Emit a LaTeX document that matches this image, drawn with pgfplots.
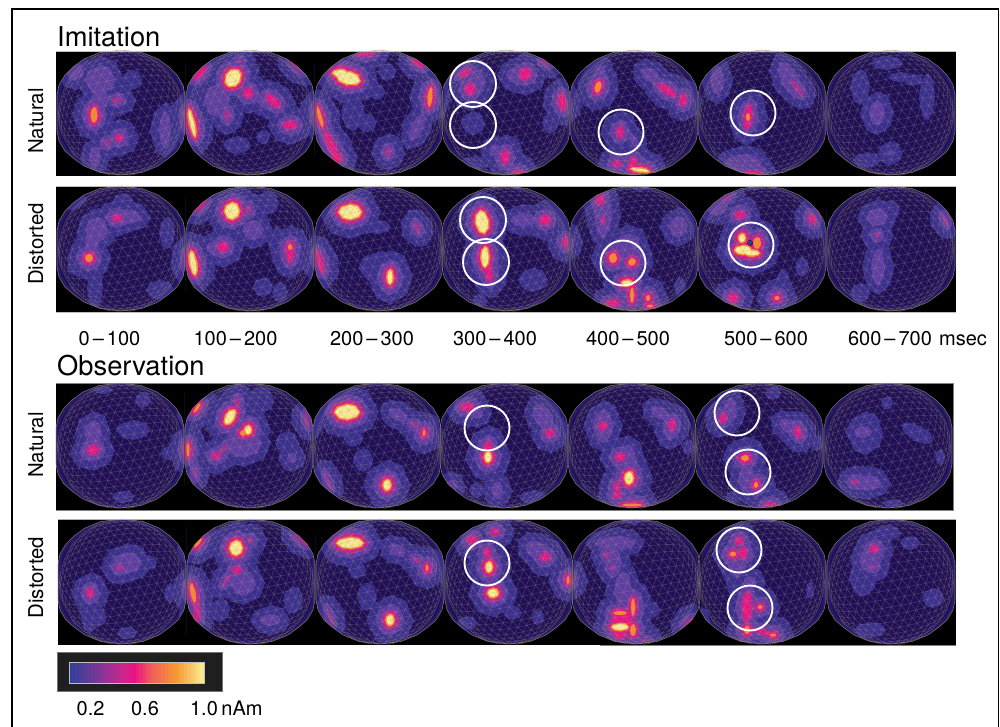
\documentclass[border=0pt]{standalone}
\usepackage{pgfplots}
\usepackage{pgfplotstable}
\usepackage{fontspec}
\setmainfont{TeX Gyre Heros}
\pgfplotsset{compat=1.18}
\definecolor{lay1}{HTML}{3A2F8E}
\definecolor{lay2}{HTML}{5E3EA3}
\definecolor{lay3}{HTML}{A52E93}
\definecolor{lay4}{HTML}{EA1484}
\definecolor{lay5}{HTML}{F28B30}
\definecolor{lay6}{HTML}{FAEB96}
\definecolor{ballbg}{HTML}{1F0F57}
\definecolor{meshc}{HTML}{A89A80}
\def\meshpath{}
\newif\ifpen
\foreach \a in {10,70,130}{%
  \pgfmathsetmacro\ca{cos(\a)}\pgfmathsetmacro\sa{sin(\a)}%
  \foreach \n in {-11,...,11}{%
    \global\penfalse
    \pgfmathsetmacro\sft{mod(abs(\n),2)*0.5}%
    \foreach \t in {-10,...,10}{%
      \pgfmathsetmacro\uu{-\n*0.139*\sa+(\t+\sft)*0.16*\ca+0.013}%
      \pgfmathsetmacro\vv{\n*0.139*\ca+(\t+\sft)*0.16*\sa+0.017}%
      \pgfmathsetmacro\thh{sqrt(\uu*\uu+\vv*\vv)}%
      \ifdim\thh pt<1.52pt
        \pgfmathsetmacro\ff{63*sin(deg(\thh))/\thh}%
        \pgfmathsetmacro\px{\ff*\uu}\pgfmathsetmacro\py{\ff*\vv}%
        \ifpen
          \xdef\meshpath{\unexpanded\expandafter{\meshpath}\noexpand\pgfpathlineto{\noexpand\pgfqpoint{\px pt}{\py pt}}}%
        \else
          \xdef\meshpath{\unexpanded\expandafter{\meshpath}\noexpand\pgfpathmoveto{\noexpand\pgfqpoint{\px pt}{\py pt}}}%
          \global\pentrue
        \fi
      \else
        \global\penfalse
      \fi
    }%
  }%
}
\def\bp#1#2{\pgfpathlineto{\pgfqpoint{#1pt}{#2pt}}}
\def\ballpath{\pgfpathmoveto{\pgfqpoint{64pt}{0pt}}%
  \bp{64}{18}\bp{62}{28}\bp{56}{38}\bp{48}{46}\bp{37}{54}\bp{21}{60.5}\bp{0}{63}%
  \bp{-21}{60.5}\bp{-37}{54}\bp{-48}{46}\bp{-56}{38}\bp{-62}{28}\bp{-64}{18}\bp{-64}{0}%
  \bp{-64}{-18}\bp{-62}{-28}\bp{-56}{-38}\bp{-48}{-45}\bp{-37}{-53}\bp{-21}{-59.5}\bp{0}{-62}%
  \bp{21}{-59.5}\bp{37}{-53}\bp{48}{-45}\bp{56}{-38}\bp{62}{-28}\bp{64}{-18}\pgfpathclose}
\newdimen\blx \newdimen\bly
\def\blobcode#1{%
  \pgfmathsetmacro\bladd{{20,11,6,3.2,1.6,0}[#1-1]-{18,10,6,3.2,1.6,0}[int(\pk)-1]}%
  \ifdim\bladd pt<0pt \else
    \pgfmathsetlength\blx{\rx+\bladd}%
    \pgfmathsetlength\bly{\ry+\bladd}%
    \pgfscope
    \pgftransformrotate{\rot}%
    \pgfpathmoveto{\pgfqpoint{\blx}{0pt}}%
    \pgfpathlineto{\pgfqpoint{.66\blx}{.78\bly}}%
    \pgfpathlineto{\pgfqpoint{.05\blx}{\bly}}%
    \pgfpathlineto{\pgfqpoint{-.75\blx}{.62\bly}}%
    \pgfpathlineto{\pgfqpoint{-\blx}{-.05\bly}}%
    \pgfpathlineto{\pgfqpoint{-.6\blx}{-.8\bly}}%
    \pgfpathlineto{\pgfqpoint{.05\blx}{-\bly}}%
    \pgfpathlineto{\pgfqpoint{.78\blx}{-.62\bly}}%
    \pgfpathclose
    \pgfusepathqfill
    \endpgfscope
  \fi}
\pgfdeclareplotmark{blob1}{\blobcode{1}}
\pgfdeclareplotmark{blob2}{\blobcode{2}}
\pgfdeclareplotmark{blob3}{\blobcode{3}}
\pgfdeclareplotmark{blob4}{\blobcode{4}}
\pgfdeclareplotmark{blob5}{\blobcode{5}}
\pgfdeclareplotmark{blob6}{\blobcode{6}}
\pgfdeclareplotmark{ballbase}{%
  \ballpath\pgfsetfillcolor{ballbg}\pgfusepathqfill
  \pgfsetstrokecolor{lay1}\pgfsetlinewidth{6pt}\pgfsetstrokeopacity{0.35}%
  \ballpath\pgfusepathqstroke}
\pgfdeclareplotmark{ballmask}{%
  \pgfpathrectangle{\pgfqpoint{-64.5pt}{-64.5pt}}{\pgfqpoint{129pt}{129pt}}%
  \ballpath\pgfseteorule\pgfsetfillcolor{black}\pgfusepathqfill}
\pgfdeclareplotmark{ballmesh}{%
  \pgfsetstrokecolor{meshc}\pgfsetstrokeopacity{0.42}\pgfsetlinewidth{0.35pt}%
  \meshpath\pgfusepathqstroke
  \pgfsetstrokeopacity{0.7}\pgfsetlinewidth{0.6pt}%
  \ballpath\pgfusepathqstroke}
\pgfdeclareplotmark{ring}{%
  \pgfpathcircle{\pgfpointorigin}{\rr pt}%
  \pgfsetstrokecolor{white}\pgfsetlinewidth{1.9pt}\pgfusepathqstroke}
\pgfdeclareplotmark{strip}{%
  \pgfpathrectangle{\pgfqpoint{-1.7pt}{-10.5pt}}{\pgfqpoint{3.4pt}{21pt}}\pgfusepathqfill}
\pgfplotsset{
  blobplot/.style={only marks,scatter,mark=blob#1,
    scatter/use mapped color={draw=none,fill=lay#1},
    visualization depends on={\thisrow{rx} \as \rx},
    visualization depends on={\thisrow{ry} \as \ry},
    visualization depends on={\thisrow{rot} \as \rot},
    visualization depends on={\thisrow{p} \as \pk}},
  ballplot/.style={only marks,mark=#1}
}
\pgfplotstableread{
x y
121 113
250 113
379 113
506 113
634 113
762 113
891 113
121 249
250 249
379 249
506 249
634 249
762 249
891 249
120 446
249 446
377 446
504 446
632 446
759 446
888 446
122 582
251 582
380 582
509 582
636 582
762 582
891 582
}\balls
\pgfplotstableread{
x y r
473 84 23
473 125 23
621 132 22.5
753 113 22.5
483 220 23
486 262 23
623 263 22.5
751 245 22.5
487 428 22.5
737 413 22.5
748 472 22.5
487 563 22.5
739 550 22.5
750 608 22.5
}\rings
\pgfplotstableread{
x y rx ry rot p
94 115 3.5 8 0 5
100 80 14 14 0 2
100 100 8 8 0 2
117 100 5 3 0 3
107 143 3 3 0 3
119 138 2.5 2.5 0 4
95 157 5 10 0 2
165 130 5 18 0 2
75 72 8 8 0 2
132 80 8 8 0 1
132 137 5 5 0 1
233 78 7 9 -30 6
248 93 4 4 0 4
273 101 8 3 -45 4
290 125 6 3 0 4
192 123 2 14 13 6
227 115 3 6 0 3
200 73 8 2 50 4
240 61 2 2 0 3
237 145 12 7 0 1
263 137 5 5 0 1
217 100 12 16 0 2
267 100 10 8 0 2
200 100 10 10 0 1
297 67 10 2 -40 3
348 78 12 6 -15 6
340 73 7 3 0 6
430 97 2.5 10 -5 5
320 117 2 11 15 5
332 147 3 17 25 4
337 158 4 4 0 4
388 152 3 5 0 3
365 54 8 1 0 4
418 63 6 1.5 -35 4
387 72 7 7 0 1
353 113 10 16 0 1
367 123 7 7 0 1
377 92 6 6 0 1
417 127 5 15 -25 2
465 73 5 2 30 4
470 89 4 5 0 4
473 82 12 14 0 2
473 123 10 10 0 1
525 74 5 5 0 4
517 75 10 8 0 2
562 102 3 8 10 4
545 63 5 1.5 -30 3
550 123 6 9 0 1
505 157 3 6 0 4
520 163 12 6 0 1
518 172 4 1 0 4
475 163 14 5 0 1
495 150 5 5 0 2
598 87 3 6 -15 5
600 77 6 12 0 2
667 90 10 2.5 -35 4
683 100 2.5 5 0 4
650 75 9 6 -35 2
670 93 15 7 -35 2
620 132 2.5 5 0 4
633 140 3 8 30 2
640 170 9 1.5 -8 6
633 163 3 5 0 4
617 164 3 2 0 4
748 117 3 12 -5 4
748 117 2 4 0 5
797 88 10 3 -55 3
790 80 8 20 30 2
717 80 6 14 0 2
743 163 18 8 0 2
753 173 8 1 0 4
877 113 7 12 0 2
887 63 14 5 0 1
860 87 8 16 0 1
927 97 6 22 0 1
913 80 8 4 0 1
890 153 2 2 0 2
867 160 12 6 0 1
900 77 10 3 0 1
89 258 4 4 0 5
92 240 6 22 0 2
117 218 4 2 0 4
123 217 18 7 0 2
97 230 10 12 0 2
95 287 6 22 0 1
75 267 6 6 0 1
123 200 8 5 0 1
77 203 10 3 30 1
160 290 12 8 0 1
167 233 6 14 0 1
232 211 7 8 0 6
223 247 4 4 0 4
217 248 10 7 0 2
290 252 3 10 0 4
290 247 2 3 0 5
193 263 3 12 10 6
248 210 3 5 0 3
200 205 7 1.5 45 4
263 287 8 8 0 1
280 292 6 8 0 1
253 230 10 9 0 2
267 203 10 10 0 1
277 243 7 15 0 1
350 212 11 7 0 6
390 277 2.5 7 0 6
380 267 20 14 0 1
320 262 2 11 15 4
417 228 2.5 6 25 3
377 227 12 5 0 1
482 222 6 11 10 6
485 257 3.5 10 0 6
488 270 3 12 10 4
545 220 4.5 4 0 4
523 220 12 6 0 2
565 242 1.5 4 0 4
533 280 13 10 0 1
480 300 5 5 0 1
613 258 4 5 0 5
632 262 4 3.5 30 5
627 283 5 2.5 0 6
632 295 2 8 0 5
648 298 2 3 0 5
650 306 3 1.5 0 5
613 303 6 2.5 0 4
600 200 3 4 0 4
603 220 3 6 0 3
603 213 8 25 0 2
678 227 8 10 0 2
627 250 14 16 0 2
680 287 4 8 0 1
743 250 8 4 0 6
742 238 3 4 0 6
757 243 4 6 0 5
752 253 7 2.5 0 6
740 215 4 3 0 4
733 298 4 4 0 4
777 298 2.5 2 0 5
812 219 2 4 25 4
783 283 5 12 0 1
717 207 10 8 0 2
727 198 6 1.5 30 3
802 267 5 8 0 1
877 235 2.5 2.5 0 3
878 267 6 18 0 2
877 217 10 8 0 2
945 220 1.5 6 20 3
890 210 8 8 0 1
860 293 8 8 0 1
93 450 5 4 0 4
93 433 8 12 0 2
90 453 10 7 0 2
133 430 15 8 0 1
143 400 6 6 0 1
168 453 5 5 0 1
123 497 9 4 0 1
103 390 8 2 0 1
230 417 4 8 -30 6
248 430 3 4 0 6
243 433 3 3 0 5
216 456 3 2 0 4
223 450 8 2 40 3
237 402 3 5 0 3
197 408 6 1.5 55 5
188 450 1.5 7 0 5
195 473 1 6 0 3
292 458 4 4 0 2
243 443 18 14 0 2
260 400 12 12 0 1
307 420 2 8 15 3
287 443 10 10 0 1
347 412 12 7 0 6
387 485 3.5 5 0 6
424 433 1.5 3 0 5
415 425 5 2 -30 3
398 415 10 5 -30 2
328 482 1 10 20 3
363 460 8 10 0 1
353 437 8 8 0 1
467 407 6 3 0 4
488 457 3 5 0 6
488 448 3 6 0 4
550 433 3 3 0 4
543 417 8 14 30 2
477 490 6 6 0 1
450 487 2 2 0 3
477 413 5 5 0 2
533 497 12 5 0 1
497 490 5 8 0 2
603 426 3 3 0 4
603 426 9 16 0 2
620 457 4 3 0 4
629 478 4 6 0 6
617 495 3 2 0 4
617 487 2 4 0 4
672 425 2 5 0 4
660 413 10 5 -30 2
670 430 6 10 0 2
632 505 10 1.5 0 5
627 467 10 22 0 2
688 447 4 6 0 1
643 492 6 6 0 1
723 418 2 4 -20 4
730 410 6 12 0 2
745 458 6 4 0 4
745 458 4 3 0 5
756 485 2 3 0 5
747 480 8 14 0 2
798 432 2 5 20 4
790 427 12 6 -30 2
770 505 5 1 0 4
817 443 5 6 0 1
773 393 6 5 0 1
733 497 5 5 0 1
863 432 8 5 0 2
865 433 16 20 0 1
887 403 4 5 0 1
855 482 4 3 0 3
867 483 14 7 0 2
917 433 16 6 -30 1
940 457 3 6 0 1
893 503 8 2 0 1
90 593 2 4 0 4
120 568 5 3 0 3
127 563 14 10 0 2
147 563 8 6 0 1
90 613 8 18 0 1
127 633 8 4 0 1
170 593 4 8 0 1
97 617 8 8 0 1
236 548 6 7 0 6
250 540 3 3 0 3
237 570 3 2.5 0 4
227 580 2 8 -35 3
198 543 6 1.5 50 5
193 593 2.5 10 12 5
197 613 1.5 10 0 4
243 583 12 12 0 2
270 620 10 5 0 2
293 600 8 12 0 1
300 540 10 1.5 -40 3
220 610 8 10 0 1
350 543 13 5 0 6
427 568 1.5 3 0 5
417 560 5 2 -30 3
397 550 9 5 -30 2
390 620 3.5 5 0 6
330 617 1 10 20 3
367 597 8 12 0 1
357 570 7 7 0 1
489 567 3 5 0 6
487 553 2 4 0 4
472 540 4 3 0 4
495 532 3 2 0 4
493 593 5 4 0 6
545 557 4 3 0 4
537 550 12 8 -30 2
568 580 1.5 4 0 5
513 613 7 5 0 1
538 617 4 6 0 1
467 623 8 5 0 1
489 567 6 12 0 2
607 555 3 3 0 3
612 568 2.5 2.5 0 3
615 543 20 6 0 2
613 563 8 14 0 2
623 590 8 18 0 2
620 627 8 3 0 6
633 607 2 9 0 5
633 630 3 6 0 5
620 613 7 2 0 5
620 633 6 5 0 4
622 620 10 10 0 4
650 610 8 7 0 1
690 623 5 1.5 35 4
645 640 5 1 0 3
739 541 3 3 0 4
733 554 3 2.5 0 5
743 553 3 5 0 4
737 563 9 14 0 2
747 607 4 15 0 4
760 607 2 2 0 5
747 630 3 4 0 5
773 635 3 1.5 0 5
763 632 8 1.5 -20 4
750 583 6 6 0 2
733 583 5 10 0 1
810 590 2 7 0 1
874 549 3 2.5 0 4
873 567 3 2 0 3
870 560 10 12 0 2
863 577 12 18 0 1
887 533 12 6 0 1
933 598 9 8 0 1
870 630 14 6 0 1
910 543 8 5 0 1
}\blobs
\begin{document}
\begin{tikzpicture}
\begin{axis}[
  width=1000pt,height=726pt,scale only axis,
  xmin=0,xmax=1000,ymin=0,ymax=726,y dir=reverse,
  axis lines=none,clip marker paths=true,
  point meta min=69,point meta max=204,
  colormap={meg}{rgb255(0cm)=(45,63,155) rgb255(19cm)=(110,58,150) rgb255(39cm)=(199,40,142) rgb255(49cm)=(236,18,132) rgb255(60cm)=(238,90,94) rgb255(80cm)=(245,154,48) rgb255(100cm)=(251,238,154)},
]
\addplot[fill=black,draw=none] coordinates {(56,51)(956,51)(956,176)(56,176)} --cycle;
\addplot[fill=black,draw=none] coordinates {(56,186)(956,186)(956,312)(56,312)} --cycle;
\addplot[fill=black,draw=none] coordinates {(56,383)(953,383)(953,510)(56,510)} --cycle;
\addplot[fill=black,draw=none] coordinates {(58,519)(956,519)(956,645)(58,645)} --cycle;
\addplot[ballplot=ballbase] table[x=x,y=y]\balls;
\addplot[blobplot=1] table[x=x,y=y]\blobs;
\addplot[blobplot=2] table[x=x,y=y]\blobs;
\addplot[blobplot=3] table[x=x,y=y]\blobs;
\addplot[blobplot=4] table[x=x,y=y]\blobs;
\addplot[blobplot=5] table[x=x,y=y]\blobs;
\addplot[blobplot=6] table[x=x,y=y]\blobs;
\addplot[only marks,mark=*,mark size=2.6pt,mark options={draw=none,fill=lay1}] coordinates {(750,243)};
\addplot[ballplot=ballmask] table[x=x,y=y]\balls;
\addplot[fill=white,draw=none] coordinates {(0,0)(1000,0)(1000,51)(0,51)} --cycle;
\addplot[fill=white,draw=none] coordinates {(0,176)(1000,176)(1000,186)(0,186)} --cycle;
\addplot[fill=white,draw=none] coordinates {(0,312)(1000,312)(1000,383)(0,383)} --cycle;
\addplot[fill=white,draw=none] coordinates {(0,510)(1000,510)(1000,519)(0,519)} --cycle;
\addplot[fill=white,draw=none] coordinates {(0,645)(1000,645)(1000,726)(0,726)} --cycle;
\addplot[fill=white,draw=none] coordinates {(0,0)(56,0)(56,726)(0,726)} --cycle;
\addplot[fill=white,draw=none] coordinates {(956,0)(1000,0)(1000,726)(956,726)} --cycle;
\addplot[fill=white,draw=none] coordinates {(953,383)(956,383)(956,510)(953,510)} --cycle;
\addplot[fill=white,draw=none] coordinates {(56,519)(58,519)(58,645)(56,645)} --cycle;
\addplot[ballplot=ballmesh] table[x=x,y=y]\balls;
\addplot[draw=black!25,line width=0.5pt] coordinates {(56,51)(956,51)};
\addplot[draw=black!25,line width=0.5pt] coordinates {(56,186)(956,186)};
\addplot[draw=black!25,line width=0.5pt] coordinates {(56,312)(956,312)};
\addplot[draw=black!50,line width=0.5pt] coordinates {(56,383)(953,383)(953,510)(56,510)};
\addplot[draw=black!30,line width=0.5pt] coordinates {(58,519)(956,519)};
\addplot[draw=black!50,line width=0.5pt] coordinates {(600,645)(956,645)};
\addplot[only marks,mark=ring,scatter,scatter/use mapped color={draw=none,fill=none},
  visualization depends on={\thisrow{r} \as \rr}] table[x=x,y=y]\rings;
\addplot[fill=black!88,draw=black!55,line width=0.5pt] coordinates {(57,652)(222,652)(222,691)(57,691)} --cycle;
\addplot[only marks,scatter,mark=strip,point meta=x,scatter/use mapped color={draw=none,fill=mapped color}]
  coordinates {(70.6,672.5)(73.8,672.5)(77,672.5)(80.2,672.5)(83.4,672.5)(86.6,672.5)(89.8,672.5)(93,672.5)(96.2,672.5)(99.4,672.5)(102.6,672.5)(105.8,672.5)(109,672.5)(112.2,672.5)(115.4,672.5)(118.6,672.5)(121.8,672.5)(125,672.5)(128.2,672.5)(131.4,672.5)(134.6,672.5)(137.8,672.5)(141,672.5)(144.2,672.5)(147.4,672.5)(150.6,672.5)(153.8,672.5)(157,672.5)(160.2,672.5)(163.4,672.5)(166.6,672.5)(169.8,672.5)(173,672.5)(176.2,672.5)(179.4,672.5)(182.6,672.5)(185.8,672.5)(189,672.5)(192.2,672.5)(195.4,672.5)(198.6,672.5)(202,672.5)};
\addplot[draw=black!25,line width=0.6pt] coordinates {(69,662)(204,662)(204,683)(69,683)} --cycle;
\addplot[draw=black,line width=1.9pt] coordinates {(12,740)(12,9)(998.5,9)(998.5,740)};
\node[anchor=base west,inner sep=0pt] at (axis cs:57,46) {\fontsize{27.3}{30}\selectfont Imitation};
\node[anchor=base west,inner sep=0pt] at (axis cs:57,375) {\fontsize{27.3}{30}\selectfont Observation};
\node[rotate=90,anchor=base,inner sep=0pt] at (axis cs:43,121) {\fontsize{20.4}{24}\selectfont Natural};
\node[rotate=90,anchor=base,inner sep=0pt] at (axis cs:43,244) {\fontsize{20.4}{24}\selectfont Distorted};
\node[rotate=90,anchor=base,inner sep=0pt] at (axis cs:43,445) {\fontsize{20.4}{24}\selectfont Natural};
\node[rotate=90,anchor=base,inner sep=0pt] at (axis cs:43,577.5) {\fontsize{20.4}{24}\selectfont Distorted};
\node[anchor=base,inner sep=0pt] at (axis cs:109.5,345) {\fontsize{20}{24}\selectfont 0\kern3pt--\kern3pt100};
\node[anchor=base,inner sep=0pt] at (axis cs:235.5,345) {\fontsize{20}{24}\selectfont 100\kern3pt--\kern3pt200};
\node[anchor=base,inner sep=0pt] at (axis cs:372,345) {\fontsize{20}{24}\selectfont 200\kern3pt--\kern3pt300};
\node[anchor=base,inner sep=0pt] at (axis cs:495,345) {\fontsize{20}{24}\selectfont 300\kern3pt--\kern3pt400};
\node[anchor=base,inner sep=0pt] at (axis cs:628,345) {\fontsize{20}{24}\selectfont 400\kern3pt--\kern3pt500};
\node[anchor=base,inner sep=0pt] at (axis cs:766,345) {\fontsize{20}{24}\selectfont 500\kern3pt--\kern3pt600};
\node[anchor=base,inner sep=0pt] at (axis cs:890,345) {\fontsize{20}{24}\selectfont 600\kern3pt--\kern3pt700};
\node[anchor=base,inner sep=0pt] at (axis cs:963,345) {\fontsize{20}{24}\selectfont msec};
\node[anchor=base,inner sep=0pt] at (axis cs:90.6,715) {\fontsize{20}{24}\selectfont 0.2};
\node[anchor=base,inner sep=0pt] at (axis cs:145,715) {\fontsize{20}{24}\selectfont 0.6};
\node[anchor=base,inner sep=0pt] at (axis cs:204,715) {\fontsize{20}{24}\selectfont 1.0};
\node[anchor=base,inner sep=0pt] at (axis cs:242,715) {\fontsize{20}{24}\selectfont nAm};
\end{axis}
\end{tikzpicture}
\end{document}
